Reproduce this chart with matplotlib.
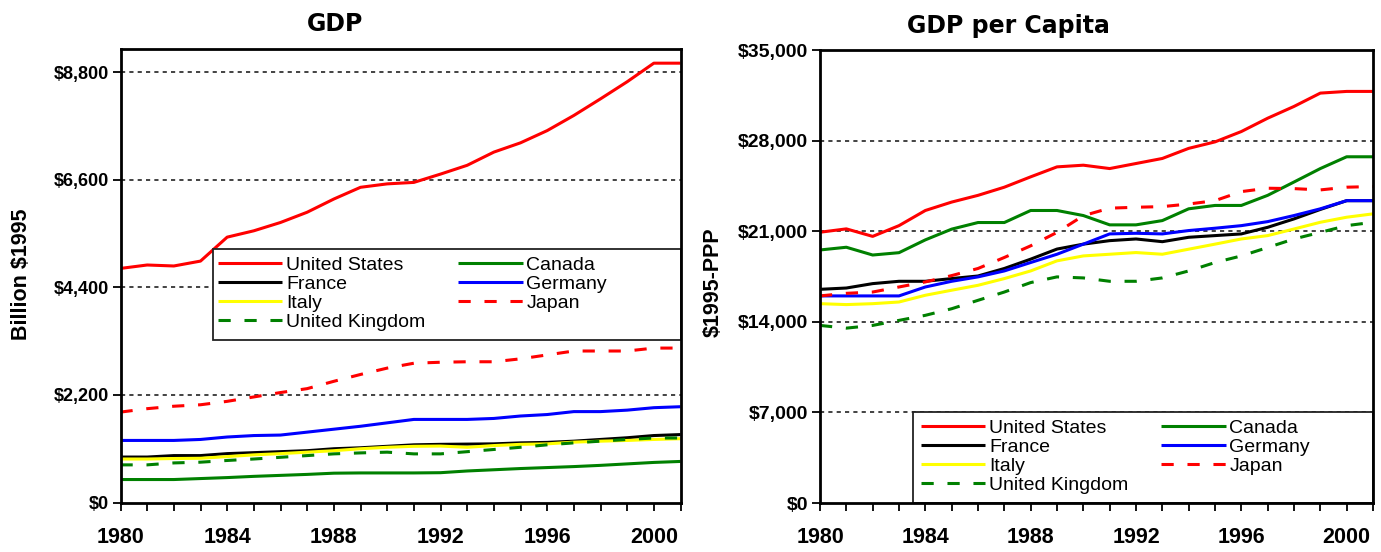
import matplotlib
matplotlib.use('Agg')
import matplotlib.pyplot as plt
from matplotlib.patches import Rectangle

years = list(range(1980, 2002))
year_labels = [str(y) if (y - 1980) % 4 == 0 else '' for y in years]

countries = ['United States', 'France', 'Italy', 'United Kingdom',
             'Canada', 'Germany', 'Japan']
colors = ['#FF0000', '#000000', '#FFFF00', '#008000',
          '#008000', '#0000FF', '#FF0000']
dashed = [False, False, False, True, False, False, True]

# GDP, billion $1995
us_gdp = [4790, 4860, 4840, 4940, 5430, 5560, 5730, 5940, 6210, 6450, 6520,
          6550, 6720, 6900, 7170, 7360, 7610, 7920, 8260, 8610, 8990, 8990]
france_gdp = [930, 930, 960, 960, 1000, 1020, 1040, 1060, 1100, 1120, 1150,
              1180, 1190, 1195, 1200, 1220, 1230, 1255, 1290, 1325, 1370, 1390]
italy_gdp = [890, 890, 900, 905, 940, 975, 1000, 1030, 1060, 1100, 1130,
             1150, 1155, 1130, 1165, 1190, 1200, 1235, 1255, 1270, 1290, 1305]
uk_gdp = [770, 770, 810, 825, 860, 890, 925, 960, 995, 1015, 1030,
          995, 995, 1040, 1085, 1130, 1180, 1220, 1255, 1290, 1320, 1320]
canada_gdp = [470, 470, 470, 490, 510, 535, 555, 575, 600, 605, 605,
              605, 610, 645, 670, 695, 715, 735, 760, 790, 820, 840]
germany_gdp = [1270, 1270, 1270, 1290, 1340, 1370, 1380, 1440, 1500, 1560, 1630,
               1700, 1700, 1700, 1720, 1770, 1800, 1860, 1860, 1890, 1940, 1960]
japan_gdp = [1850, 1920, 1970, 2000, 2070, 2160, 2250, 2330, 2480, 2620, 2750,
             2850, 2870, 2880, 2880, 2940, 3020, 3100, 3100, 3100, 3160, 3160]

# GDP per capita, $1995-PPP
us_pc = [20920, 21180, 20600, 21430, 22600, 23250, 23770, 24400, 25200, 25970, 26100,
         25840, 26230, 26620, 27400, 27900, 28700, 29730, 30640, 31670, 31800, 31800]
france_pc = [16510, 16610, 16950, 17130, 17130, 17340, 17540, 18120, 18840, 19620, 20000,
             20270, 20400, 20190, 20530, 20660, 20790, 21300, 21950, 22680, 23360, 23360]
italy_pc = [15400, 15330, 15400, 15530, 16050, 16440, 16820, 17340, 17930, 18710, 19090,
            19220, 19350, 19220, 19610, 20000, 20400, 20660, 21170, 21690, 22080, 22340]
uk_pc = [13720, 13510, 13720, 14110, 14500, 15010, 15660, 16300, 17030, 17470, 17390,
         17130, 17130, 17390, 17930, 18580, 19090, 19740, 20400, 20910, 21430, 21690]
canada_pc = [19550, 19760, 19160, 19340, 20330, 21160, 21670, 21670, 22600, 22600, 22210,
             21490, 21490, 21820, 22730, 22990, 22990, 23770, 24800, 25840, 26750, 26750]
germany_pc = [16000, 16000, 16000, 16000, 16690, 17130, 17470, 17930, 18580, 19220, 20000,
              20790, 20840, 20790, 21050, 21230, 21430, 21740, 22210, 22730, 23360, 23360]
japan_pc = [16000, 16200, 16300, 16690, 17080, 17570, 18120, 18970, 19870, 20910, 22200,
            22780, 22850, 22900, 23100, 23360, 24060, 24320, 24290, 24190, 24400, 24450]

gdp_ticks = [0, 2200, 4400, 6600, 8800]
gdp_ticklabels = ['$0', '$2,200', '$4,400', '$6,600', '$8,800']
pc_ticks = [0, 7000, 14000, 21000, 28000, 35000]
pc_ticklabels = ['$0', '$7,000', '$14,000', '$21,000', '$28,000', '$35,000']

W, H = 1381, 552
fig = plt.figure(figsize=(W / 100, H / 100), dpi=100)

arial = ['Liberation Sans', 'DejaVu Sans']


def panel(rect, series, ymax, ticks, ticklabels, ysize, leg_rect, leg_anchor):
    ax = fig.add_axes([rect[0] / W, 1 - rect[3] / H,
                       (rect[2] - rect[0]) / W, (rect[3] - rect[1]) / H])
    for ys, name, c, d in zip(series, countries, colors, dashed):
        ln, = ax.plot(years, ys, color=c, lw=2.2, label=name, zorder=3,
                      solid_capstyle='butt')
        if d:
            ln.set_dashes((4, 4.5))
    ax.set_xlim(1980, 2001)
    ax.set_ylim(0, ymax)
    ax.set_xticks(years)
    ax.set_xticklabels(year_labels, family=arial, fontweight='bold', fontsize=15.5)
    ax.set_yticks(ticks)
    ax.set_yticklabels(ticklabels, family=arial, fontweight='bold', fontsize=ysize)
    ax.tick_params(axis='x', direction='out', length=5.5, width=1.3, pad=12)
    ax.tick_params(axis='y', direction='out', length=5.5, width=1.3, pad=3)
    for t in ticks[1:]:
        if t < ymax:
            ax.axhline(t, color='#222222', lw=1.2, ls=(0, (2.5, 2.5)), zorder=1)
    for s in ax.spines.values():
        s.set_linewidth(2)
        s.set_zorder(6)
    # legend frame
    x0, y0, x1, y1 = leg_rect
    bx0 = (x0 - rect[0]) / (rect[2] - rect[0])
    by0 = (rect[3] - y1) / (rect[3] - rect[1])
    bx1 = (x1 - rect[0]) / (rect[2] - rect[0])
    by1 = (rect[3] - y0) / (rect[3] - rect[1])
    ax.add_patch(Rectangle((bx0, by0), bx1 - bx0, by1 - by0, transform=ax.transAxes,
                           facecolor='white', edgecolor='#222222', lw=1.3, zorder=4))
    ax_ = (leg_anchor[0] - rect[0]) / (rect[2] - rect[0])
    ay_ = (rect[3] - leg_anchor[1]) / (rect[3] - rect[1])
    leg = ax.legend(loc='upper left', bbox_to_anchor=(ax_, ay_), borderaxespad=0,
                    borderpad=0, ncol=2, frameon=False, handlelength=3.3,
                    handletextpad=0.2, columnspacing=1.7, labelspacing=0.07,
                    prop={'family': arial, 'size': 14})
    leg.set_zorder(5)
    return ax


ax1 = panel((120.5, 49, 680.5, 502.5), [us_gdp, france_gdp, italy_gdp, uk_gdp,
            canada_gdp, germany_gdp, japan_gdp], 9280, gdp_ticks, gdp_ticklabels, 13,
            (213, 249, 680.5, 340), (218, 256))
ax2 = panel((820, 50, 1373, 503), [us_pc, france_pc, italy_pc, uk_pc,
            canada_pc, germany_pc, japan_pc], 35000, pc_ticks, pc_ticklabels, 14,
            (913, 412, 1373, 503), (921, 419.5))

fig.text(335 / W, 1 - 24 / H, 'GDP', ha='center', va='center',
         family=['DejaVu Sans'], fontweight='bold', fontsize=17)
fig.text(1008 / W, 1 - 26 / H, 'GDP per Capita', ha='center', va='center',
         family=['DejaVu Sans'], fontweight='bold', fontsize=17)
fig.text(22 / W, 1 - 274 / H, 'Billion $1995', ha='center', va='center',
         rotation=90, family=arial, fontweight='bold', fontsize=15.5)
fig.text(713 / W, 1 - 282 / H, '$1995-PPP', ha='center', va='center',
         rotation=90, family=arial, fontweight='bold', fontsize=15.5)

fig.savefig('out.png', dpi=100)
